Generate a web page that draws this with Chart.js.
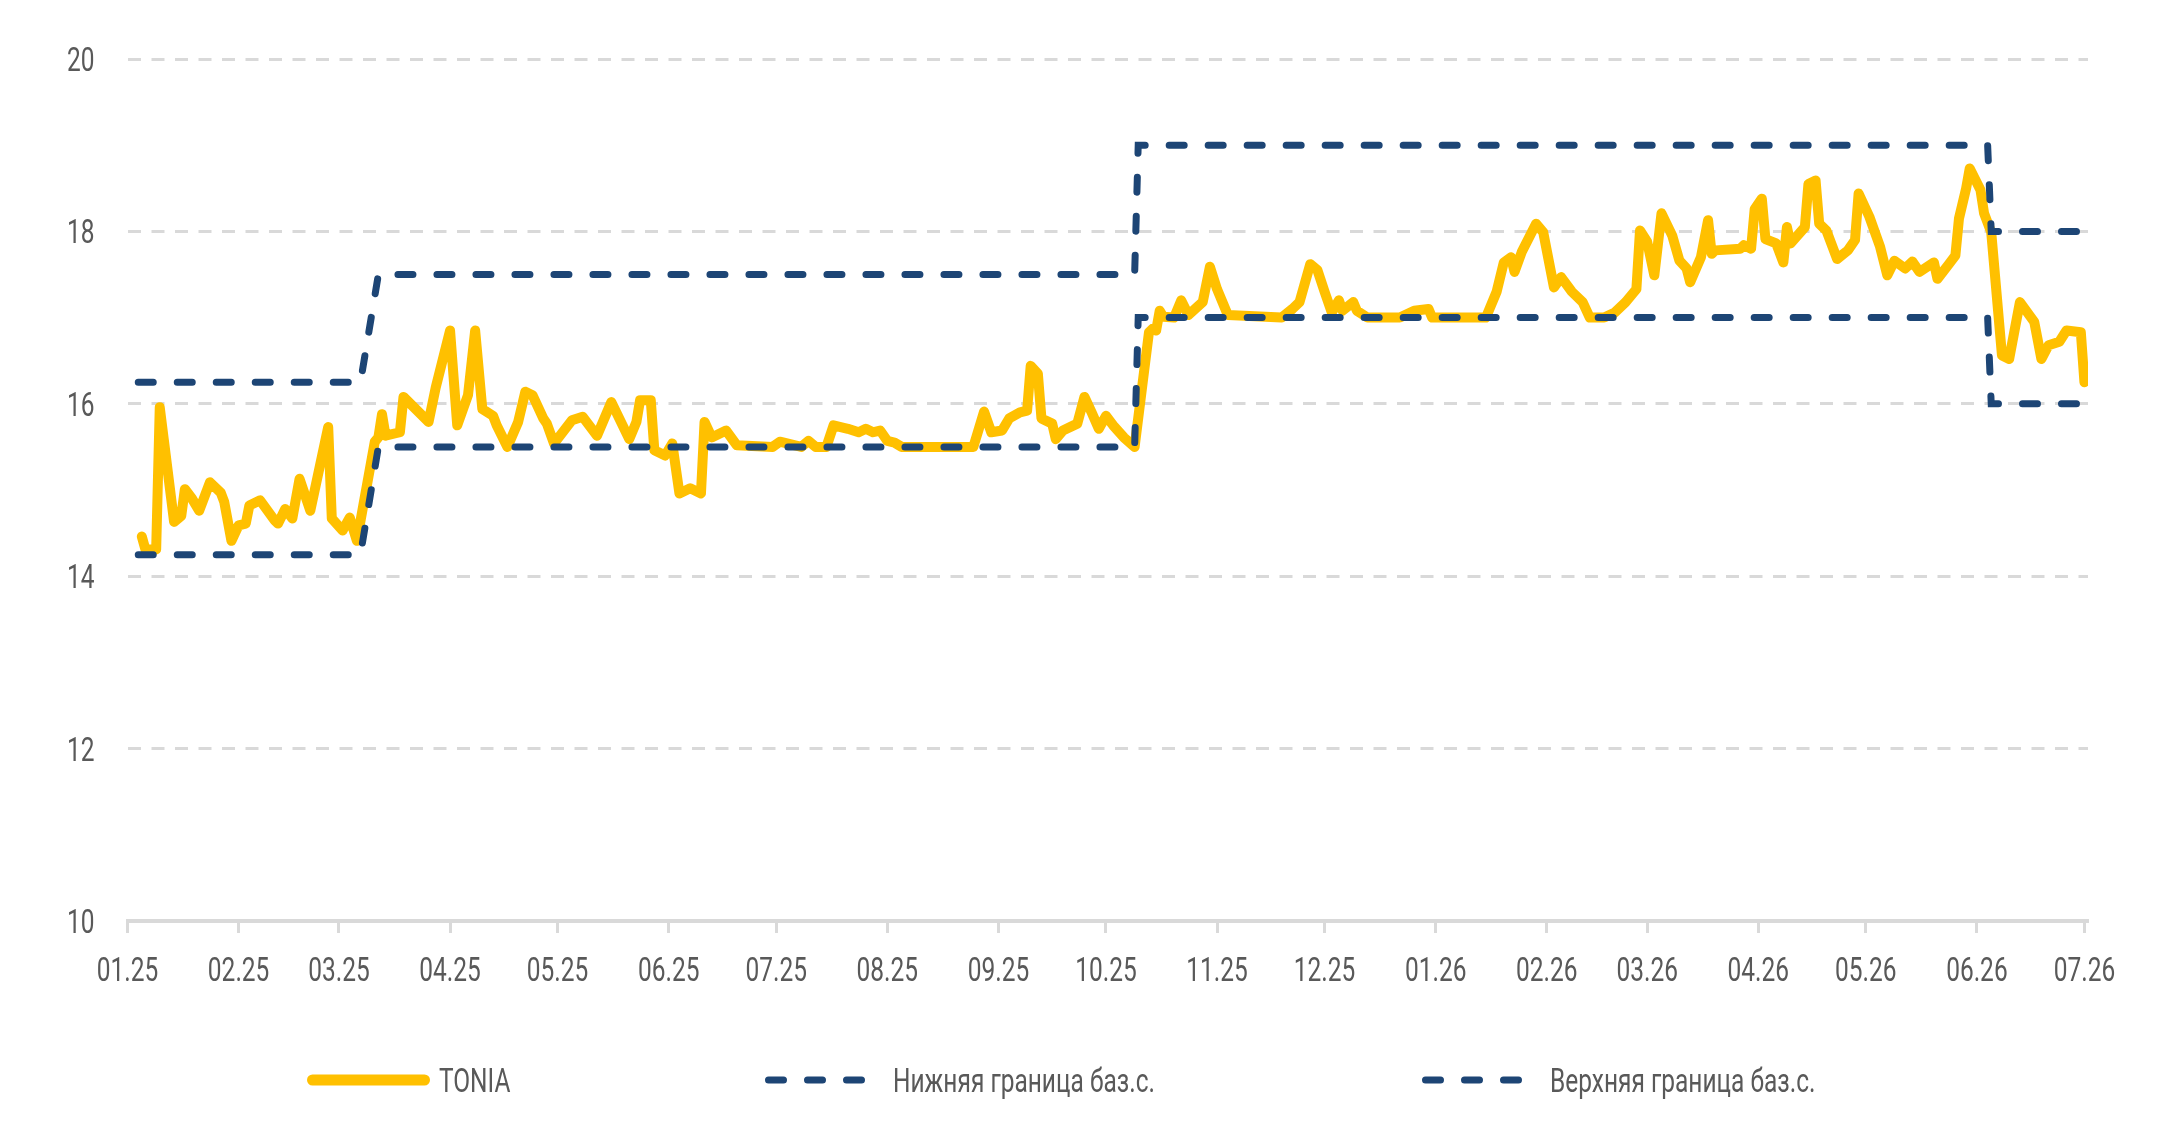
<!DOCTYPE html>
<html>
<head>
<meta charset="utf-8">
<script src="https://cdn.jsdelivr.net/npm/chart.js@4.4.1/dist/chart.umd.min.js"></script>
<style>
    html, body { margin: 0; padding: 0; background: #fff; }
    #wrap { width: 2160px; height: 1145px; }
</style>
</head>
<body>
<div id="wrap"><canvas id="tonia"></canvas></div>
<script>
// days are counted from 01.01.2025
const monthDays   = [0, 31, 59, 90, 120, 151, 181, 212, 243, 273, 304, 334, 365, 396, 424, 455, 485, 516, 546];
const monthLabels = ['01.25', '02.25', '03.25', '04.25', '05.25', '06.25', '07.25', '08.25', '09.25', '10.25',
                     '11.25', '12.25', '01.26', '02.26', '03.26', '04.26', '05.26', '06.26', '07.26'];
const yTicks = [10, 12, 14, 16, 18, 20];

const toniaDay = [4, 5, 8, 9, 13, 15, 16, 18, 20, 23, 26, 27, 29, 31, 33, 34, 37, 41, 42, 44, 46, 48, 51, 56, 57, 60, 62, 64,
    69, 70, 71, 72, 76, 77, 84, 86, 90, 92, 95, 97, 99, 102, 103, 106, 109, 111, 113, 116, 117, 119, 124, 127, 131, 135,
    140, 142, 143, 146, 147, 150, 152, 154, 157, 160, 161, 163, 165, 167, 170, 180, 182, 188, 190, 192, 195, 197, 201,
    204, 206, 208, 210, 212, 214, 216, 236, 239, 241, 244, 246, 249, 251, 252, 254, 255, 258, 259, 261, 265, 267, 269,
    271, 273, 275, 278, 281, 285, 286, 287, 288, 289, 292, 294, 296, 300, 302, 304, 307, 322, 325, 327, 330, 332, 334,
    336, 338, 339, 342, 343, 346, 355, 359, 363, 364, 379, 382, 384, 386, 387, 389, 393, 395, 398, 400, 403, 406, 408,
    412, 415, 418, 421, 422, 424, 426, 428, 431, 433, 435, 436, 439, 441, 442, 443, 450, 451, 453, 454, 456, 457, 460,
    462, 463, 464, 468, 469, 471, 472, 474, 477, 480, 482, 483, 486, 489, 491, 493, 496, 498, 500, 504, 505, 508, 510,
    511, 513, 514, 517, 518, 520, 523, 525, 528, 532, 534, 536, 539, 541, 545, 546, 547];
const toniaRate = [14.46, 14.31, 14.31, 15.96, 14.63, 14.70, 15.01, 14.90, 14.76, 15.09, 14.97, 14.86, 14.41, 14.59, 14.61,
    14.82, 14.88, 14.65, 14.61, 14.78, 14.67, 15.13, 14.76, 15.73, 14.67, 14.53, 14.68, 14.41,
    15.56, 15.61, 15.88, 15.63, 15.67, 16.08, 15.79, 16.19, 16.85, 15.75, 16.10, 16.85, 15.94, 15.86, 15.75, 15.50, 15.79,
    16.14, 16.10, 15.83, 15.77, 15.54, 15.81, 15.85, 15.63, 16.02,
    15.59, 15.79, 16.04, 16.04, 15.46, 15.40, 15.54, 14.96, 15.02, 14.96, 15.79, 15.61, 15.65, 15.69, 15.52, 15.50, 15.56,
    15.50, 15.57, 15.50, 15.50, 15.75, 15.71,
    15.67, 15.71, 15.67, 15.69, 15.57, 15.55, 15.50, 15.50, 15.91, 15.67, 15.69, 15.83, 15.90, 15.92, 16.44, 16.35, 15.83,
    15.77, 15.59, 15.69, 15.77, 16.08, 15.90,
    15.71, 15.86, 15.75, 15.61, 15.50, 16.83, 16.87, 16.85, 17.08, 17.01, 17.00, 17.20, 17.03, 17.18, 17.59, 17.33, 17.03,
    17.00, 17.10, 17.18, 17.62, 17.55, 17.30,
    17.06, 17.20, 17.08, 17.18, 17.08, 17.00, 17.00, 17.08, 17.10, 17.00, 17.00, 17.30, 17.64, 17.70, 17.53, 17.76, 18.09,
    17.99, 17.35, 17.47, 17.30, 17.18, 17.00,
    17.00, 17.06, 17.18, 17.33, 18.01, 17.88, 17.49, 18.21, 17.95, 17.66, 17.57, 17.41, 17.70, 18.13, 17.74, 17.78, 17.80,
    17.84, 17.80, 18.26, 18.38, 17.91, 17.86,
    17.64, 18.05, 17.86, 18.05, 18.55, 18.59, 18.09, 18.01, 17.68, 17.78, 17.90, 18.44, 18.17, 17.82, 17.49, 17.66, 17.57,
    17.65, 17.53, 17.64, 17.45, 17.61, 17.72,
    18.15, 18.50, 18.73, 18.48, 18.21, 17.99, 16.56, 16.52, 17.18, 16.95, 16.52, 16.68, 16.72, 16.85, 16.83, 16.25, 16.37];

// коридор ключевой ставки (ступеньки)
const corridorDay = [3, 65, 70, 281, 282, 519, 520, 547];
const lowerBound  = [14.25, 14.25, 15.5, 15.5, 17, 17, 16, 16];
const upperBound  = [16.25, 16.25, 17.5, 17.5, 19, 19, 18, 18];

const YELLOW = '#FFC000';
const NAVY = '#1d4575';
const GRID = '#d9d9d9';
const TEXT = '#595959';
const FONT = "34px Roboto, 'DejaVu Sans', sans-serif";
const NARROW = 0.72; // в оригинале узкий шрифт, сжимаем по горизонтали

function points(xs, ys) {
    return xs.map((x, i) => ({ x: x, y: ys[i] }));
}

function narrowText(ctx, text, x, y, align) {
    ctx.save();
    ctx.translate(x, y);
    ctx.scale(NARROW, 1);
    ctx.textAlign = align;
    ctx.fillText(text, 0, 0);
    ctx.restore();
}

// подписи осей и легенда рисуются узким текстом
const narrowLabels = {
    id: 'narrowLabels',
    afterDraw(chart) {
        const ctx = chart.ctx;
        const xs = chart.scales.x, ys = chart.scales.y;
        ctx.save();
        ctx.font = FONT;
        ctx.fillStyle = TEXT;
        ctx.textBaseline = 'alphabetic';

        xs.ticks.forEach((t, i) => {
            narrowText(ctx, monthLabels[i], xs.getPixelForValue(t.value), xs.top + 60, 'center');
        });
        ys.ticks.forEach(t => {
            narrowText(ctx, String(t.value), ys.right - 33, ys.getPixelForValue(t.value) + 12, 'right');
        });

        const starts = [307, 765, 1422];
        const lineY = 1080;
        chart.data.datasets.forEach((ds, i) => {
            const dashed = ds.borderDash && ds.borderDash.length;
            const len = dashed ? 101 : 123;
            const w = dashed ? 7 : 11;
            const x0 = starts[i];
            ctx.beginPath();
            ctx.setLineDash(dashed ? ds.borderDash : []);
            ctx.lineCap = 'round';
            ctx.lineWidth = w;
            ctx.strokeStyle = ds.borderColor;
            ctx.moveTo(x0 + w / 2, lineY);
            ctx.lineTo(x0 + len - w / 2, lineY);
            ctx.stroke();
            ctx.setLineDash([]);
            narrowText(ctx, ds.label, x0 + len + (dashed ? 27 : 9), lineY + 12, 'left');
        });
        ctx.restore();
    }
};

const ctx = document.getElementById('tonia').getContext('2d');
new Chart(ctx, {
    type: 'line',
    data: {
        datasets: [
            {
                label: 'TONIA',
                data: points(toniaDay, toniaRate),
                borderColor: YELLOW, borderWidth: 10,
                borderCapStyle: 'round', borderJoinStyle: 'round',
                pointRadius: 0, tension: 0, order: 2
            },
            {
                label: 'Нижняя граница баз.с.',
                data: points(corridorDay, lowerBound),
                borderColor: NAVY, borderWidth: 7, borderDash: [15, 24],
                borderCapStyle: 'round', pointRadius: 0, tension: 0, order: 1
            },
            {
                label: 'Верхняя граница баз.с.',
                data: points(corridorDay, upperBound),
                borderColor: NAVY, borderWidth: 7, borderDash: [15, 24],
                borderCapStyle: 'round', pointRadius: 0, tension: 0, order: 1
            }
        ]
    },
    options: {
        responsive: true, maintainAspectRatio: false, animation: false,
        layout: { padding: { left: 65.5, right: 72, top: 59, bottom: 159 } },
        plugins: { legend: { display: false }, tooltip: { enabled: false } },
        scales: {
            x: {
                type: 'linear', min: 0, max: 547,
                afterBuildTicks: s => { s.ticks = monthDays.map(v => ({ value: v })); },
                afterFit: s => { s.height = 65; },
                ticks: { display: false },
                grid: { drawOnChartArea: false, drawTicks: true, tickLength: 12, tickWidth: 3, tickColor: GRID },
                border: { display: true, color: GRID, width: 4 }
            },
            y: {
                min: 10, max: 20,
                afterBuildTicks: s => { s.ticks = yTicks.map(v => ({ value: v })); },
                afterFit: s => { s.width = 62; },
                ticks: { display: false },
                grid: { color: GRID, lineWidth: 3, drawTicks: false },
                border: { display: false, dash: [13, 10.5] }
            }
        }
    },
    plugins: [narrowLabels]
});
</script>
</body>
</html>
